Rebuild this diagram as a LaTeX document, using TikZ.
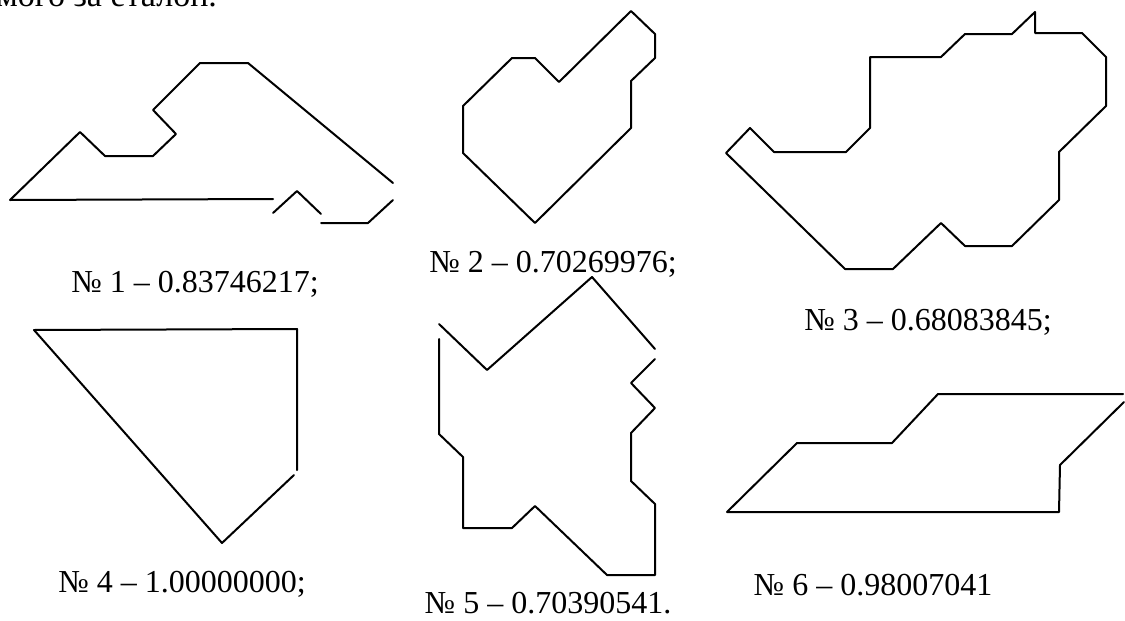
\documentclass[tikz,border=0pt]{standalone}
\usepackage{fontspec}
\setmainfont{Liberation Serif}
\begin{document}
\begin{tikzpicture}[x=0.5pt,y=-0.5pt,line cap=round,line join=round,
  contour/.style={line width=1pt},
  caption/.style={font=\fontsize{16}{19}\selectfont,anchor=base,inner sep=0pt}]
  \useasboundingbox (0,0) rectangle (1125,621);
  \clip (0,0) rectangle (1125,621);

  \node[anchor=base west,inner sep=0pt,font=\fontsize{17}{20}\selectfont] (head) at (-4,6) {мого за еталон.};

  % 1
  \draw[contour] (273,213) -- (297,191) -- (321,214);
  \draw[contour] (321,223) -- (368,223) -- (393,200);
  \draw[contour] (393,183) -- (248,63) -- (200,63) -- (153,110) -- (176,134) -- (153,156)
    -- (105,156) -- (80,132) -- (10,200) -- (273,199);

  % 2
  \draw[contour] (631,11) -- (655,34) -- (655,58) -- (631,81) -- (631,128) -- (535,223)
    -- (463,153) -- (463,106) -- (512,58) -- (535,58) -- (559,82) -- cycle;

  % 3
  \draw[contour] (1035,12) -- (1035,33) -- (1082,33) -- (1106,57) -- (1106,106) -- (1059,152)
    -- (1059,200) -- (1012,246) -- (965,246) -- (941,223) -- (893,269) -- (845,269)
    -- (726,153) -- (750,128) -- (774,152) -- (846,152) -- (870,128) -- (870,57)
    -- (941,57) -- (965,34) -- (1012,34) -- cycle;

  % 4
  \draw[contour] (297,470) -- (297,329) -- (34,330) -- (222,543) -- (294,475);

  % 5
  \draw[contour] (439,324) -- (487,370) -- (592,277) -- (655,349);
  \draw[contour] (655,359) -- (631,383) -- (655,408) -- (631,433) -- (631,481) -- (655,504)
    -- (655,575) -- (607,575) -- (535,506) -- (512,528) -- (463,528) -- (463,457)
    -- (439,434) -- (439,339);

  % 6
  \draw[contour] (1124,402) -- (1060,465) -- (1059,512) -- (727,512) -- (797,443)
    -- (892,443) -- (938,394) -- (1123,394);

  \node[caption] (cap1) at (195,292) {№ 1 -- 0.83746217;};
  \node[caption] (cap2) at (553,272) {№ 2 -- 0.70269976;};
  \node[caption] (cap3) at (928,330) {№ 3 -- 0.68083845;};
  \node[caption] (cap4) at (182,592) {№ 4 -- 1.00000000;};
  \node[caption] (cap5) at (548,613) {№ 5 -- 0.70390541.};
  \node[caption] (cap6) at (873,595) {№ 6 -- 0.98007041};
\end{tikzpicture}
\end{document}
